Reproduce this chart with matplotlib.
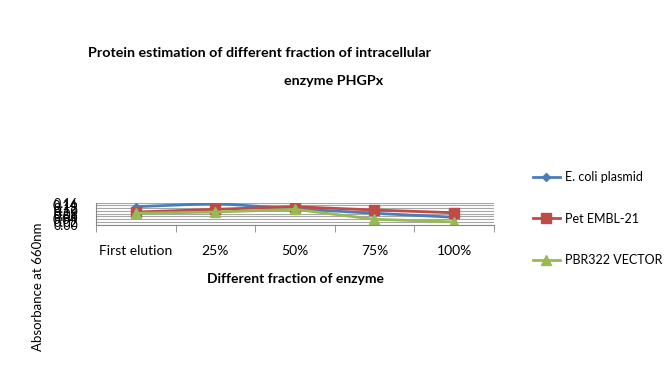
import matplotlib.pyplot as plt
import numpy as np

categories = ['First elution', '25%', '50%', '75%', '100%']
ecoli = [0.131, 0.155, 0.116, 0.083, 0.054]
pet = [0.092, 0.112, 0.131, 0.107, 0.087]
pbr = [0.083, 0.092, 0.112, 0.039, 0.020]
yticks = [0.00, 0.02, 0.04, 0.06, 0.08, 0.10, 0.12, 0.14, 0.16]

plt.rcParams['font.family'] = ['Lato', 'DejaVu Sans']

fig = plt.figure(figsize=(6.71, 3.84), dpi=100)
ax = fig.add_axes([0.143, 0.415, 0.593, 0.057])

x = np.arange(len(categories))
ax.plot(x, ecoli, color='#4a7ebb', lw=2, marker='D', ms=4, label='E. coli plasmid')
ax.plot(x, pet, color='#be4b48', lw=2, marker='s', ms=7, label='Pet EMBL-21')
ax.plot(x, pbr, color='#98b954', lw=2, marker='^', ms=7, label='PBR322 VECTOR')

ax.set_xlim(-0.5, len(categories) - 0.5)
ax.set_ylim(0, 0.16)
ax.set_yticks(yticks)
ax.set_yticklabels([f'{v:.2f}' for v in yticks], fontsize=9)
ax.yaxis.grid(True, color='#a6a6a6', lw=0.8)
ax.set_axisbelow(True)
ax.tick_params(axis='y', length=0, pad=13)

ax.set_xticks(x)
ax.set_xticklabels(categories, fontsize=10)
ax.set_xticks(np.arange(-0.5, len(categories)), minor=True)
ax.tick_params(axis='x', which='major', length=0, pad=15)
ax.tick_params(axis='x', which='minor', length=5, color='#868686')

for s in ['top', 'right']:
    ax.spines[s].set_visible(False)
for s in ['left', 'bottom']:
    ax.spines[s].set_color('#868686')

fig.text(0.387, 0.862, 'Protein estimation of different fraction of intracellular',
         ha='center', va='center', fontsize=10.3, fontweight='bold')
fig.text(0.497, 0.79, 'enzyme PHGPx', ha='center', va='center', fontsize=10.3, fontweight='bold')
fig.text(0.44, 0.273, 'Different fraction of enzyme', ha='center', va='center',
         fontsize=10, fontweight='bold')
fig.text(0.057, 0.253, 'Absorbance at 660nm', ha='center', va='center',
         rotation=90, fontsize=9.5)

handles, labels = ax.get_legend_handles_labels()
fig.legend(handles, labels, loc='upper left', bbox_to_anchor=(0.777, 0.583),
           frameon=False, fontsize=9, labelspacing=2.35, handlelength=2.2,
           handletextpad=0.4)

fig.savefig('out.png', dpi=100)
